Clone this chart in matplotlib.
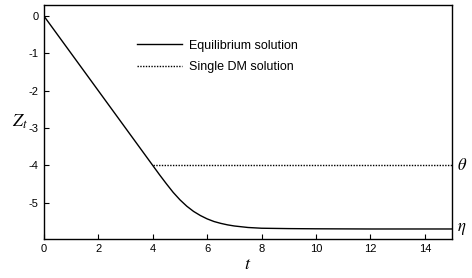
import numpy as np
import matplotlib.pyplot as plt

plt.rcParams['font.family'] = ['Liberation Sans', 'DejaVu Sans']
plt.rcParams['mathtext.fontset'] = 'stix'
plt.rcParams['axes.unicode_minus'] = False

# equilibrium solution
t_eq = [0, 4, 4.25, 4.5, 4.75, 5, 5.25, 5.5, 5.75, 6, 6.25, 6.5, 6.75, 7, 7.5, 8, 9, 10, 12, 15]
z_eq = [0, -4, -4.25, -4.49, -4.72, -4.92, -5.09, -5.23, -5.34, -5.43, -5.50, -5.55,
        -5.59, -5.62, -5.66, -5.68, -5.69, -5.695, -5.70, -5.70]
# single DM solution (dotted part)
t_dm = [4, 15]
z_dm = [-4, -4]
theta = -4
eta = -5.70

fig = plt.figure(figsize=(4.72, 2.78), dpi=100)
ax = fig.add_axes([0.0932, 0.1414, 0.8644, 0.8396])

ax.plot(t_eq, z_eq, color='black', lw=1.0, label='Equilibrium solution')
ax.plot(t_dm, z_dm, color='black', lw=1.0, ls=(0, (1, 1)), label='Single DM solution')

ax.set_xlim(0, 15)
ax.set_ylim(-5.96, 0.29)
ax.set_xticks(range(0, 15, 2))
ax.set_yticks([0, -1, -2, -3, -4, -5])
ax.tick_params(direction='in', length=3.5, width=0.8, labelsize=8, pad=4)
for s in ax.spines.values():
    s.set_linewidth(1.0)

ax.set_xlabel(r'$t$', fontsize=13, labelpad=1)
ax.set_ylabel(r'$Z_t$', fontsize=13, rotation=0, labelpad=6, va='center')

ax.text(1.012, theta, r'$\theta$', transform=ax.get_yaxis_transform(), fontsize=12, va='center')
ax.text(1.012, eta, r'$\eta$', transform=ax.get_yaxis_transform(), fontsize=12, va='center')

ax.legend(loc='upper left', bbox_to_anchor=(0.2, 0.90), frameon=False, fontsize=9,
          handlelength=3.6, handletextpad=0.6, labelspacing=0.75)

fig.savefig('out.png', dpi=100)
